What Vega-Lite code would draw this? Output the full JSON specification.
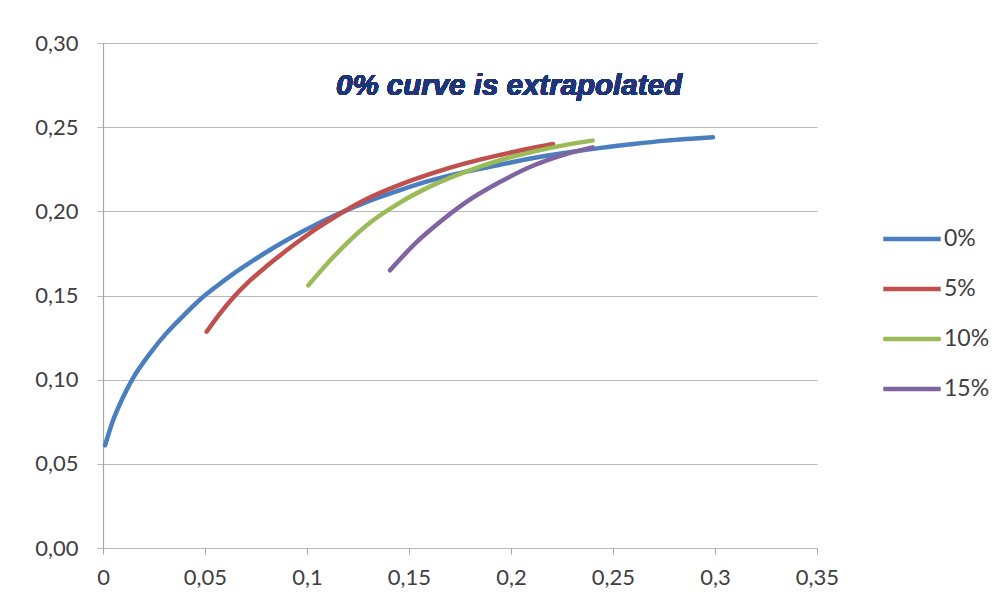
{
  "$schema": "https://vega.github.io/schema/vega-lite/v6.json",
  "width": 714,
  "height": 505,
  "autosize": {"type": "none"},
  "padding": {"left": 103, "top": 43, "right": 188, "bottom": 65},
  "background": "white",
  "config": {
    "view": {"stroke": null},
    "font": "Lato",
    "axis": {"labelFont": "Lato", "labelFontSize": 22, "labelColor": "#404040", "title": null}
  },
  "data": {
    "values": [
      {"series": "0%", "x": 0.001, "y": 0.061},
      {"series": "0%", "x": 0.005, "y": 0.076},
      {"series": "0%", "x": 0.010, "y": 0.090},
      {"series": "0%", "x": 0.015, "y": 0.1015},
      {"series": "0%", "x": 0.023, "y": 0.1155},
      {"series": "0%", "x": 0.031, "y": 0.1275},
      {"series": "0%", "x": 0.039, "y": 0.1375},
      {"series": "0%", "x": 0.0475, "y": 0.1475},
      {"series": "0%", "x": 0.0557, "y": 0.1555},
      {"series": "0%", "x": 0.064, "y": 0.163},
      {"series": "0%", "x": 0.072, "y": 0.1695},
      {"series": "0%", "x": 0.080, "y": 0.1757},
      {"series": "0%", "x": 0.088, "y": 0.1815},
      {"series": "0%", "x": 0.0966, "y": 0.1873},
      {"series": "0%", "x": 0.105, "y": 0.1925},
      {"series": "0%", "x": 0.113, "y": 0.1972},
      {"series": "0%", "x": 0.129, "y": 0.2055},
      {"series": "0%", "x": 0.146, "y": 0.2128},
      {"series": "0%", "x": 0.162, "y": 0.2188},
      {"series": "0%", "x": 0.178, "y": 0.2236},
      {"series": "0%", "x": 0.195, "y": 0.2278},
      {"series": "0%", "x": 0.211, "y": 0.2317},
      {"series": "0%", "x": 0.227, "y": 0.2348},
      {"series": "0%", "x": 0.244, "y": 0.2377},
      {"series": "0%", "x": 0.26, "y": 0.2400},
      {"series": "0%", "x": 0.276, "y": 0.2420},
      {"series": "0%", "x": 0.299, "y": 0.2440},
      {"series": "5%", "x": 0.0508, "y": 0.1285},
      {"series": "5%", "x": 0.0574, "y": 0.1394},
      {"series": "5%", "x": 0.064, "y": 0.1490},
      {"series": "5%", "x": 0.072, "y": 0.1588},
      {"series": "5%", "x": 0.080, "y": 0.1672},
      {"series": "5%", "x": 0.088, "y": 0.1750},
      {"series": "5%", "x": 0.0966, "y": 0.1828},
      {"series": "5%", "x": 0.105, "y": 0.1900},
      {"series": "5%", "x": 0.113, "y": 0.1962},
      {"series": "5%", "x": 0.129, "y": 0.2072},
      {"series": "5%", "x": 0.146, "y": 0.2160},
      {"series": "5%", "x": 0.162, "y": 0.2228},
      {"series": "5%", "x": 0.178, "y": 0.2286},
      {"series": "5%", "x": 0.195, "y": 0.2336},
      {"series": "5%", "x": 0.211, "y": 0.2378},
      {"series": "5%", "x": 0.2206, "y": 0.2400},
      {"series": "10%", "x": 0.1006, "y": 0.156},
      {"series": "10%", "x": 0.113, "y": 0.173},
      {"series": "10%", "x": 0.129, "y": 0.1915},
      {"series": "10%", "x": 0.146, "y": 0.2055},
      {"series": "10%", "x": 0.162, "y": 0.2157},
      {"series": "10%", "x": 0.178, "y": 0.2236},
      {"series": "10%", "x": 0.195, "y": 0.2305},
      {"series": "10%", "x": 0.211, "y": 0.2355},
      {"series": "10%", "x": 0.227, "y": 0.2395},
      {"series": "10%", "x": 0.240, "y": 0.2420},
      {"series": "15%", "x": 0.1407, "y": 0.165},
      {"series": "15%", "x": 0.154, "y": 0.182},
      {"series": "15%", "x": 0.162, "y": 0.1905},
      {"series": "15%", "x": 0.178, "y": 0.2055},
      {"series": "15%", "x": 0.195, "y": 0.2177},
      {"series": "15%", "x": 0.211, "y": 0.2272},
      {"series": "15%", "x": 0.227, "y": 0.2340},
      {"series": "15%", "x": 0.240, "y": 0.2380}
    ]
  },
  "layer": [
    {
      "mark": {"type": "line", "strokeWidth": 4.5, "interpolate": "monotone", "strokeCap": "round"},
      "encoding": {
        "x": {
          "field": "x", "type": "quantitative",
          "scale": {"domain": [0, 0.35], "nice": false, "zero": true},
          "axis": {
            "values": [0, 0.05, 0.1, 0.15, 0.2, 0.25, 0.3, 0.35],
            "grid": false,
            "domain": false,
            "labelFlush": false,
            "labelOverlap": false,
            "tickColor": "#a6a6a6", "tickSize": 6,
            "labelPadding": 13,
            "labelExpr": "replace(format(datum.value, '.2~f'), '.', ',')"
          }
        },
        "y": {
          "field": "y", "type": "quantitative",
          "scale": {"domain": [0, 0.3], "nice": false},
          "axis": {
            "values": [0, 0.05, 0.1, 0.15, 0.2, 0.25, 0.3],
            "grid": true, "gridColor": "#b8b8b8", "gridWidth": 1.2,
            "domainColor": "#a6a6a6", "domainWidth": 1.2,
            "labelFlush": false,
            "tickColor": "#b8b8b8", "tickSize": 6,
            "labelPadding": 19,
            "labelExpr": "replace(format(datum.value, '.2f'), '.', ',')"
          }
        },
        "color": {
          "field": "series", "type": "nominal",
          "scale": {"domain": ["0%", "5%", "10%", "15%"], "range": ["#4a7ebf", "#c0504d", "#9bbb59", "#8064a2"]},
          "legend": {
            "title": null,
            "orient": "none",
            "legendX": 778,
            "legendY": 165,
            "symbolType": "stroke",
            "symbolSize": 3300,
            "symbolStrokeWidth": 4.5,
            "labelFont": "Lato",
            "labelFontSize": 23,
            "labelColor": "#404040",
            "labelOffset": 1,
            "rowPadding": 7,
            "padding": 0
          }
        }
      }
    },
    {
      "mark": {"type": "text", "font": "Liberation Sans", "fontStyle": "italic", "fontWeight": "bold", "fontSize": 29.5, "fill": "#1f3578", "stroke": null, "strokeWidth": 0, "align": "center", "baseline": "middle"},
      "encoding": {
        "x": {"datum": 0.199},
        "y": {"datum": 0.2745},
        "text": {"value": "0% curve is extrapolated"}
      }
    }
  ]
}
